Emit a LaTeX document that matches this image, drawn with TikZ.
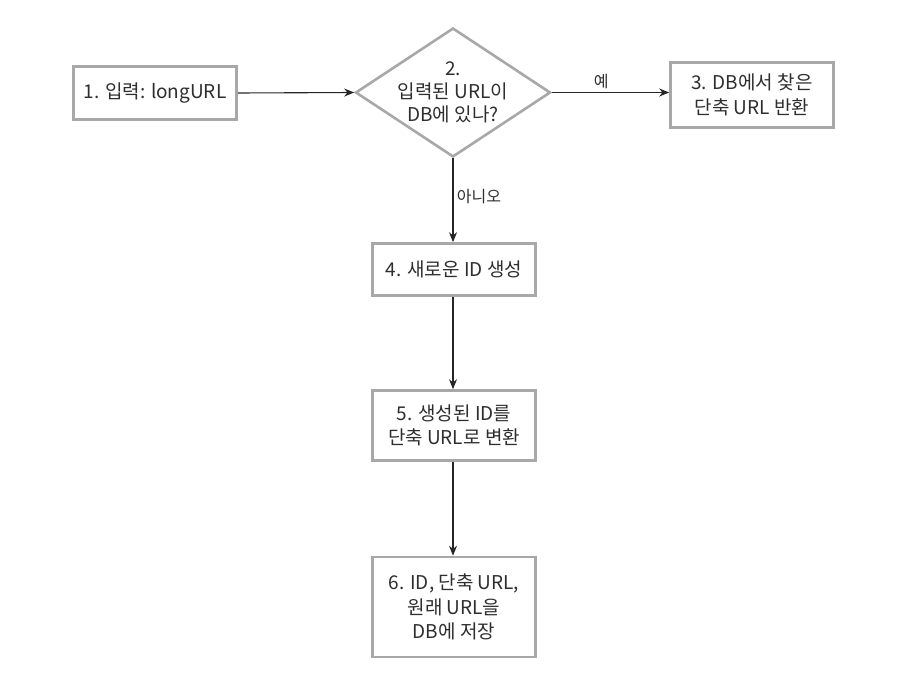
\documentclass[tikz,border=0pt]{standalone}
\usepackage{fontspec}
\setmainfont{Noto Sans CJK KR}
\usetikzlibrary{arrows.meta,shapes.geometric}
\definecolor{boxgray}{HTML}{A8A8A8}
\definecolor{txtgray}{HTML}{2E2E2E}
\tikzset{
    stepbox/.style={draw=boxgray, line width=2.6pt, fill=white, minimum width=163pt, align=center, text=txtgray, font=\fontsize{19}{24.5}\selectfont},
    decision/.style={draw=boxgray, line width=2.6pt, shape=diamond, minimum width=195pt, minimum height=129pt, inner sep=0pt},
    flow/.style={-{Stealth[length=10pt,width=8pt]}, line width=1.1pt, draw=black!85},
    edgelabel/.style={text=txtgray, font=\fontsize{16}{18}\selectfont}
}
\begin{document}
\begin{tikzpicture}[x=1pt, y=-1pt]
        \useasboundingbox (0, 0) rectangle (912, 682);
        \node[stepbox, minimum height=53pt] (input) at (155, 93) {1. 입력: longURL};
        \node[decision] (check) at (453, 92.5) {};
        \node[align=center, text=txtgray, font=\fontsize{19}{23}\selectfont] (checktext) at (453, 92.5) {2.\\입력된 URL이\\DB에 있나?};
        \node[stepbox, minimum height=65pt] (found) at (752, 95) {3. DB에서 찾은\\단축 URL 반환};
        \node[stepbox, minimum height=52pt] (newid) at (454, 269.5) {4. 새로운 ID 생성};
        \node[stepbox, minimum height=70pt] (convert) at (454, 425.5) {5. 생성된 ID를\\단축 URL로 변환};
        \node[stepbox, minimum height=100pt] (store) at (454, 607) {6. ID, 단축 URL,\\원래 URL을\\DB에 저장};
        \draw[flow] (input.east) -- (check.west);
        \draw[flow] (check.east) -- node[edgelabel, above, pos=0.42] {예} (found.west |- check.east);
        \draw[flow] (check.south) -- node[edgelabel, right, pos=0.46] {아니오} (newid.north -| check.south);
        \draw[flow] (newid.south -| check.south) -- (convert.north -| check.south);
        \draw[flow] (convert.south -| check.south) -- (store.north -| check.south);
    \end{tikzpicture}
\end{document}
